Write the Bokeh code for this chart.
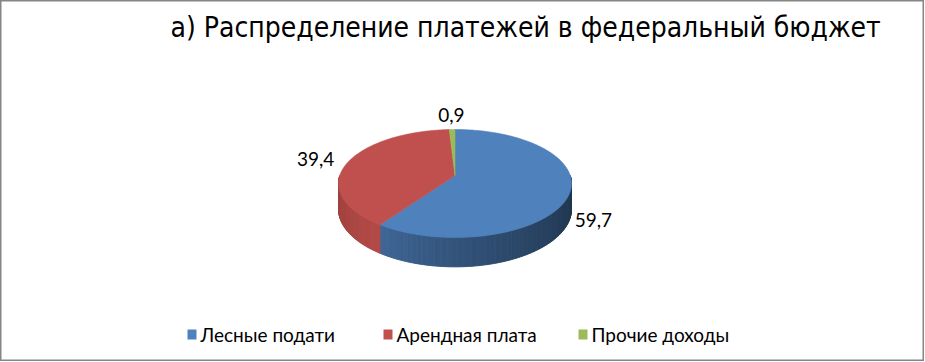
import numpy as np
from bokeh.plotting import figure
from bokeh.models import Range1d
from bokeh.core.properties import value
from bokeh.embed import file_html
from bokeh.resources import INLINE

title_text = "а) Распределение платежей в федеральный бюджет"
categories = ["Лесные подати", "Арендная плата", "Прочие доходы"]
shares = [59.7, 39.4, 0.9]
labels = ["59,7", "39,4", "0,9"]
colors = ["#4F81BD", "#C0504D", "#9BBB59"]

# ---- layout (page pixel coordinates) ----
W, H = 924, 361
CX = 454.5            # horizontal centre of the pie
Y_FAR, Y_MID, Y_NEAR = 129.0, 175.0, 237.0   # far edge, projected centre, near edge
HALF_W = 116.5        # visible half width of the top face
D0 = 25.0             # thickness of the pie

# perspective (projective) mapping of the unit disc onto the top face:
# y(v) = (P*v + Q) / (1 + R*v) with y(-1)=far, y(0)=mid, y(1)=near
Q = Y_MID
R = ((Y_MID - Y_FAR) - (Y_NEAR - Y_MID)) / (Y_NEAR - Y_FAR)
P = (Y_MID - Y_FAR) + Y_FAR * R
AX = HALF_W * np.sqrt(1 - R * R)


def proj(theta_deg, rad=1.0, down=0.0):
    t = np.radians(theta_deg)
    u, v = rad * np.sin(t), -rad * np.cos(t)
    den = 1 + R * v
    return CX + AX * u / den, (P * v + Q) / den + down / den


p = figure(width=W, height=H, output_backend="svg", toolbar_location=None,
           x_range=Range1d(0, W), y_range=Range1d(H, 0),
           x_axis_location=None, y_axis_location=None, min_border=0)
p.grid.visible = False
p.outline_line_color = "#868686"
p.outline_line_width = 2
p.background_fill_color = "white"
p.border_fill_color = "white"


def rgb_hex(c, f):
    c = c.lstrip("#")
    r, g, b = int(c[0:2], 16), int(c[2:4], 16), int(c[4:6], 16)
    return "#%02x%02x%02x" % tuple(int(max(0, min(255, round(v * f)))) for v in (r, g, b))


total = float(sum(shares))
bounds = []
start = 0.0
for s in shares:
    end = start + 360.0 * s / total
    bounds.append((start, end))
    start = end

# ---- side walls (front half only), with horizontal shading ----
side_xs, side_ys, side_cols = [], [], []
for i, (t0, t1) in enumerate(bounds):
    s0, s1 = max(t0, 90.0), min(t1, 270.0)
    if s1 <= s0:
        continue
    n = max(2, int((s1 - s0) / 0.75))
    edges = np.linspace(s0, s1, n + 1)
    for k in range(n):
        a0, a1 = edges[k], edges[k + 1]
        mid = 0.5 * (a0 + a1)
        if i == 0:
            f = 0.42 + 0.38 * ((mid - 90.0) / 125.0) ** 1.5
        elif i == 1:
            f = 0.93 - 0.12 * (mid - s0) / max(1e-6, (s1 - s0))
        else:
            f = 0.7
        arc = np.linspace(a0, a1, 3)
        tx, ty = proj(arc)
        bx, by = proj(arc[::-1], down=D0)
        side_xs.append(list(tx) + list(bx))
        side_ys.append(list(ty) + list(by))
        side_cols.append(rgb_hex(colors[i], f))
p.patches(side_xs, side_ys, fill_color=side_cols, line_color=side_cols, line_width=1.0)

# ---- top face ----
top_xs, top_ys = [], []
cx0, cy0 = proj(0.0, rad=0.0)
for (t0, t1) in bounds:
    arc = np.linspace(t0, t1, max(3, int(t1 - t0) + 2))
    ax, ay = proj(arc)
    top_xs.append([cx0] + list(ax))
    top_ys.append([cy0] + list(ay))
p.patches(top_xs, top_ys, fill_color=colors, line_color=colors, line_width=0.6)

# ---- data labels (outside end) ----
EA, EB = HALF_W, (Y_NEAR - Y_FAR) / 2
ECY = (Y_NEAR + Y_FAR) / 2
lx, ly, la = [], [], []
for (t0, t1) in bounds:
    mid = 0.5 * (t0 + t1)
    sx, cy_ = np.sin(np.radians(mid)), -np.cos(np.radians(mid))
    x = CX + (EA + 9) * sx
    y = ECY + (EB + 7) * cy_ + 28 * max(0.0, cy_)
    if cy_ > 0.2:
        y += 10
    elif cy_ < -0.2:
        y -= 8
    lx.append(x)
    ly.append(y)
    la.append("left" if sx > 0.3 else ("right" if sx < -0.3 else "center"))
p.text(x=lx, y=ly, text=labels, text_align=la, text_baseline="middle",
       text_font=value("Lato"), text_font_size="19px", text_color="#000000")

# ---- title ----
p.text(x=[170], y=[27], text=[title_text], text_align="left", text_baseline="middle",
       text_font=value("DejaVu Sans Condensed"), text_font_size="28px", text_color="#000000")

# ---- legend ----
leg_x = [187.0, 383.0, 578.0]
LEG_Y = 334.0
p.rect(x=[x + 4.5 for x in leg_x], y=[LEG_Y] * 3, width=9, height=10,
       fill_color=colors, line_color=None)
p.text(x=[x + 13 for x in leg_x], y=[LEG_Y] * 3, text=categories, text_align="left",
       text_baseline="middle", text_font=value("Lato"), text_font_size="19px",
       text_color="#000000")

open("out.html", "w").write(file_html(p, INLINE))
